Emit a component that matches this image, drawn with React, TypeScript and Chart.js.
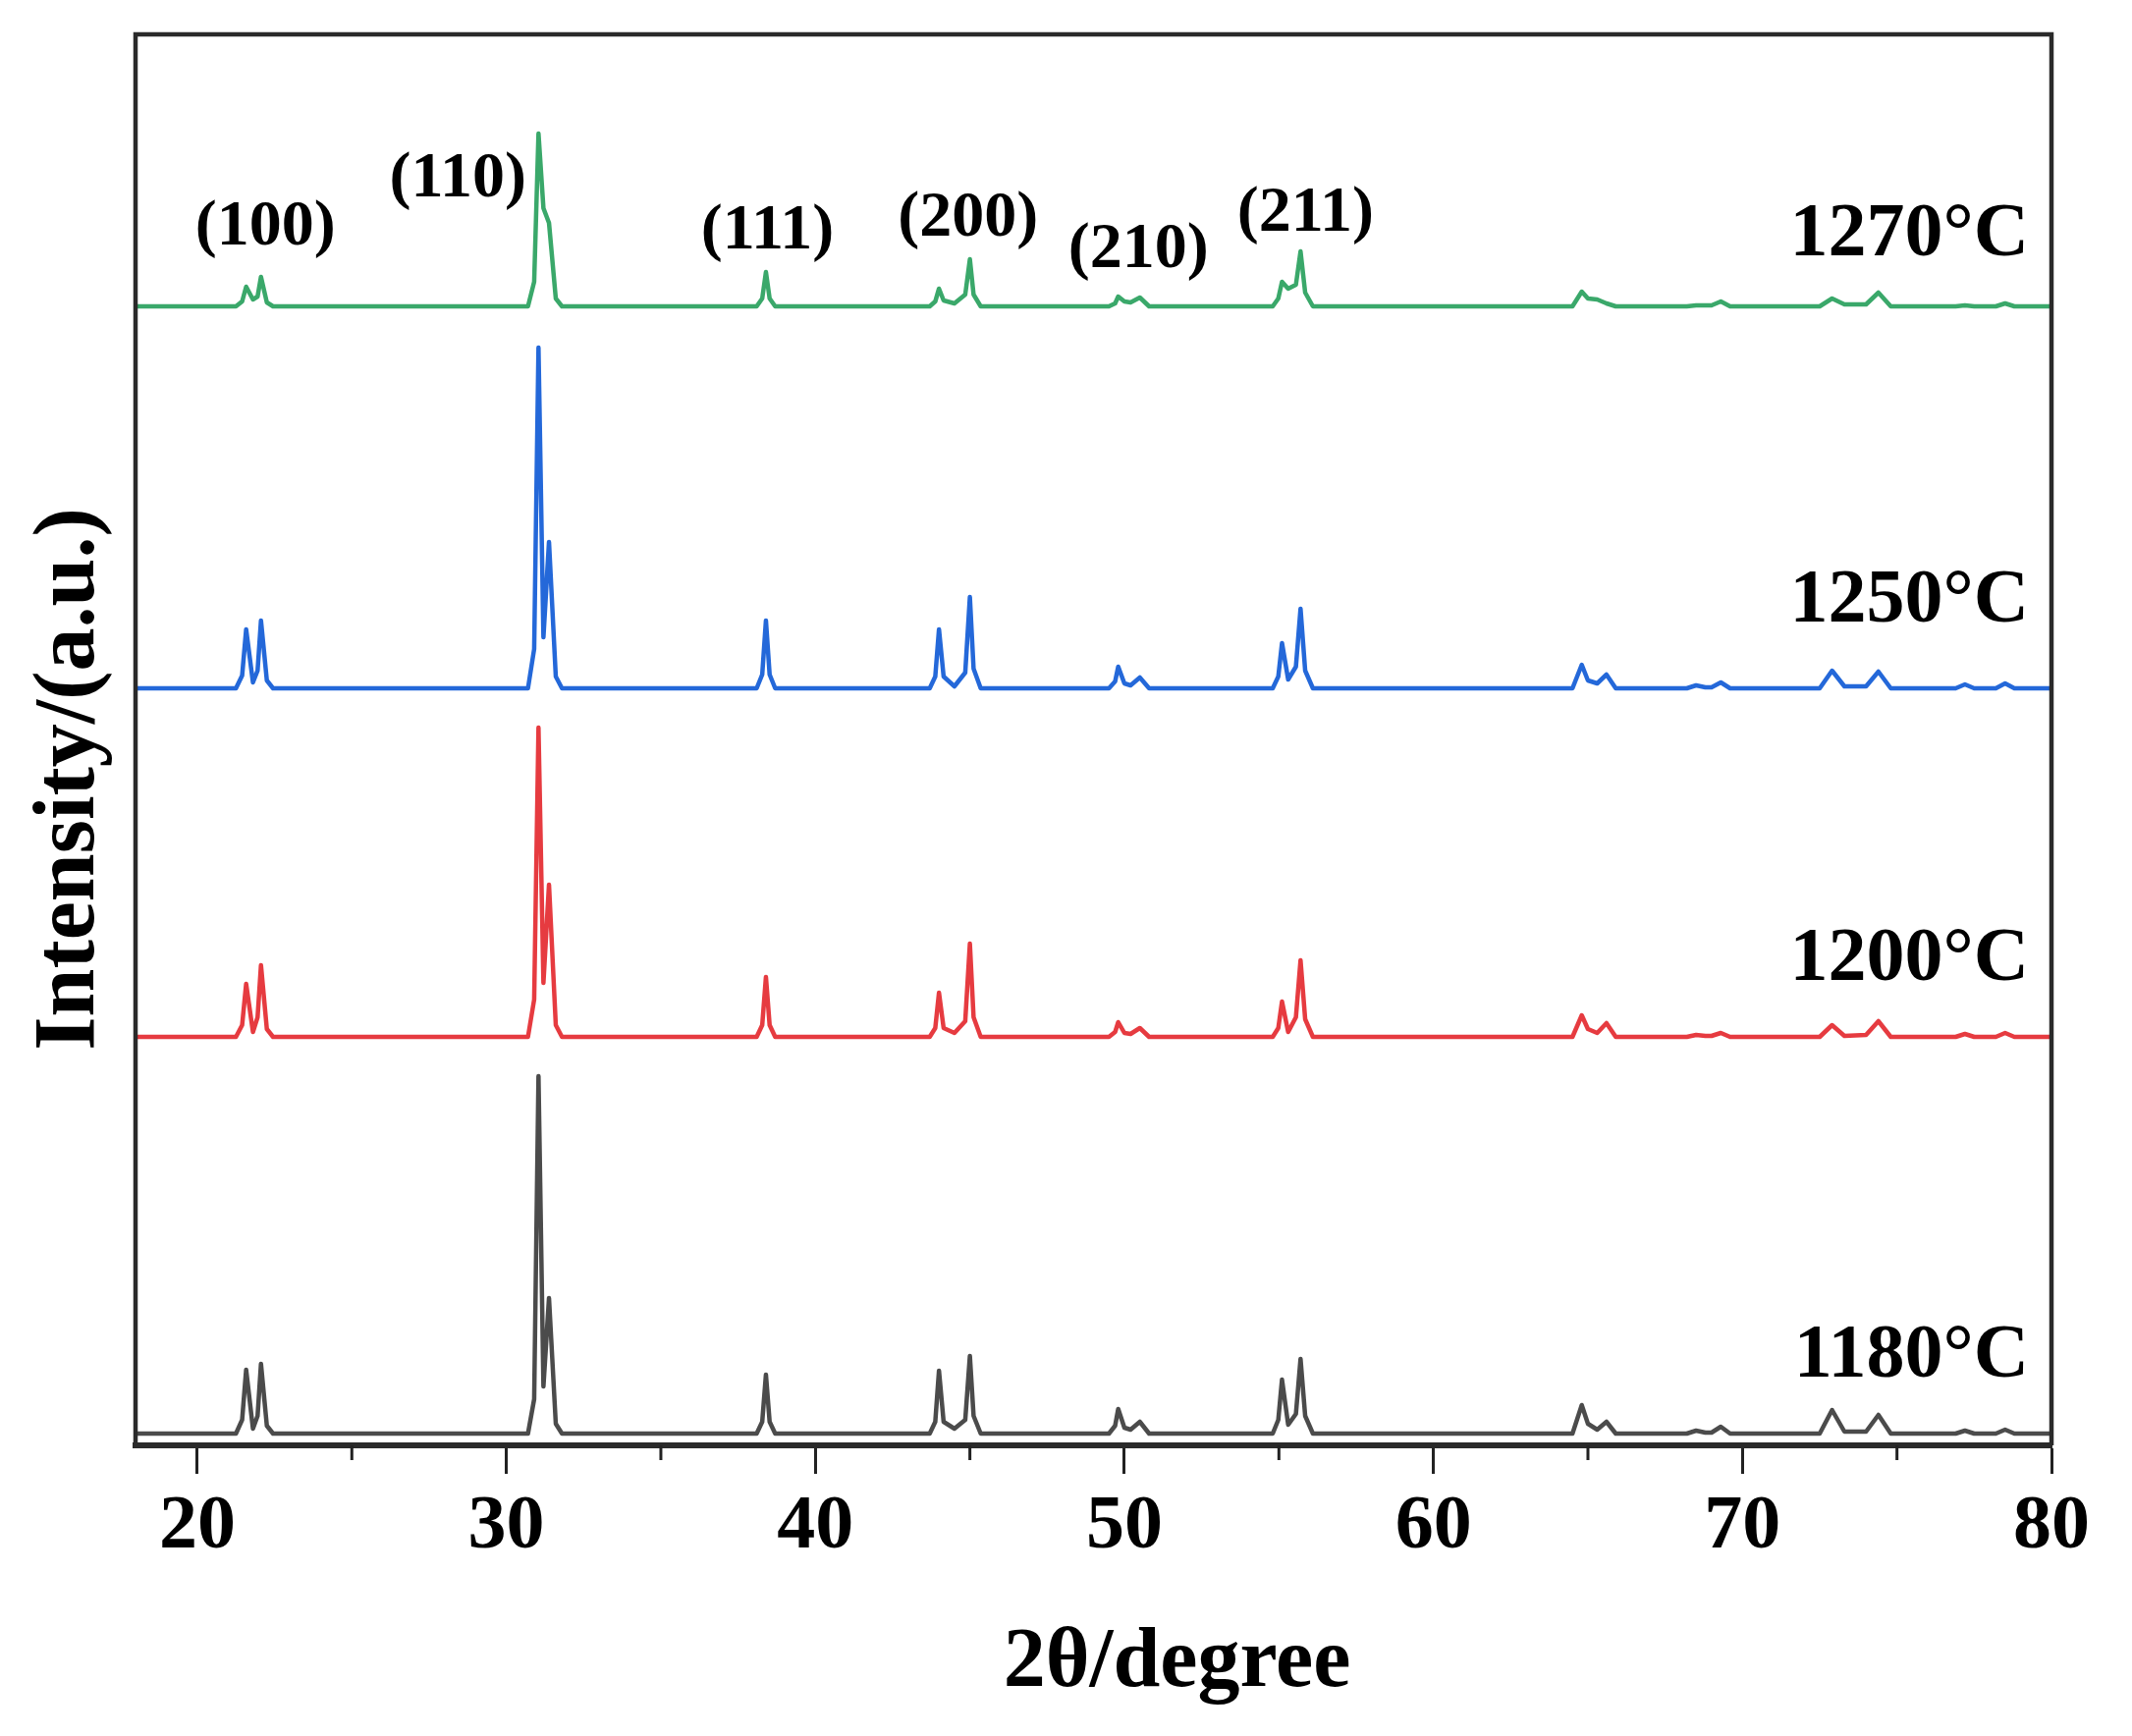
import React, { useEffect, useRef } from "react";
import { Chart, registerables } from "chart.js";

Chart.register(...registerables);

// 2θ positions (degrees) shared by all patterns
const ANGLES = [
  18.0,
  21.25, 21.45, 21.58, 21.8, 21.95, 22.06, 22.25, 22.45,
  30.7, 30.9, 31.04, 31.2, 31.38, 31.6, 31.8,
  38.1, 38.28, 38.4, 38.52, 38.7,
  43.7, 43.88, 44.0, 44.15, 44.5, 44.85, 45.0, 45.12, 45.35,
  49.5, 49.7, 49.8, 50.0, 50.2, 50.5, 50.8,
  54.8, 54.98, 55.1, 55.3, 55.55, 55.7, 55.85, 56.1,
  64.5, 64.8, 65.0, 65.3, 65.6, 65.9,
  68.2, 68.5, 68.8, 69.0, 69.3, 69.6,
  72.5, 72.9, 73.3, 74.0, 74.4, 74.8,
  76.9, 77.2, 77.5, 78.2, 78.5, 78.8,
  80.0,
];

// intensities above each pattern's own baseline (a.u.)
const I_1180 = [
  0,
  0, 14, 65, 5, 18, 71, 8, 0,
  0, 35, 364, 48, 138, 10, 0,
  0, 12, 60, 12, 0,
  0, 12, 64, 12, 5, 14, 79, 18, 0,
  0, 8, 25, 6, 4, 12, 0,
  0, 14, 55, 9, 20, 76, 18, 0,
  0, 29, 10, 4, 12, 0,
  0, 3, 1, 1, 7, 0,
  0, 24, 2, 2, 19, 0,
  0, 3, 0, 0, 4, 0,
  0,
];
const I_1200 = [
  0,
  0, 12, 54, 5, 20, 73, 8, 0,
  0, 38, 315, 55, 155, 12, 0,
  0, 12, 61, 12, 0,
  0, 9, 45, 9, 4, 16, 95, 20, 0,
  0, 5, 15, 4, 3, 9, 0,
  0, 9, 36, 5, 20, 78, 18, 0,
  0, 22, 8, 4, 14, 0,
  0, 2, 1, 1, 4, 0,
  0, 12, 1, 2, 16, 0,
  0, 3, 0, 0, 4, 0,
  0,
];
const I_1250 = [
  0,
  0, 13, 60, 6, 18, 69, 8, 0,
  0, 40, 347, 52, 149, 12, 0,
  0, 14, 69, 14, 0,
  0, 12, 60, 12, 2, 16, 93, 20, 0,
  0, 7, 22, 5, 3, 11, 0,
  0, 12, 46, 9, 22, 81, 18, 0,
  0, 24, 8, 5, 14, 0,
  0, 3, 1, 1, 6, 0,
  0, 18, 2, 2, 17, 0,
  0, 4, 0, 0, 5, 0,
  0,
];
const I_1270 = [
  0,
  0, 5, 20, 7, 10, 30, 4, 0,
  0, 25, 176, 100, 85, 8, 0,
  0, 8, 35, 8, 0,
  0, 5, 18, 6, 3, 12, 48, 12, 0,
  0, 3, 10, 5, 4, 9, 0,
  0, 8, 25, 18, 22, 56, 14, 0,
  0, 15, 8, 7, 3, 0,
  0, 1, 1, 1, 5, 0,
  0, 8, 2, 2, 14, 0,
  0, 1, 0, 0, 3, 0,
  0,
];

const SERIES_NAMES = ["1180°C", "1200°C", "1250°C", "1270°C"];
const SERIES_VALUES = [I_1180, I_1200, I_1250, I_1270];
// vertical stacking offset of each pattern
const OFFSETS = [12, 416, 771, 1160];
const COLORS = ["#4b4b4b", "#e63b40", "#2468d9", "#3aa86a"];

const X_TICKS = [20, 30, 40, 50, 60, 70, 80];
const X_MINOR = [25, 35, 45, 55, 65, 75];

const HKL_LABELS = ["(100)", "(110)", "(111)", "(200)", "(210)", "(211)"];
const HKL_X = [22.2, 28.43, 38.45, 44.94, 50.45, 55.86];
const HKL_Y = [1240, 1289, 1236, 1249, 1217, 1254];
const TEMP_LABEL_Y = [90, 494, 859, 1232];

const SERIF = '"Liberation Serif", "Times New Roman", serif';

const textPlugin = {
  id: "xrdText",
  afterDraw(chart: any) {
    const { ctx, chartArea, scales } = chart;
    const xs = scales.x;
    const ys = scales.y;
    ctx.save();

    // frame (left, top, right)
    ctx.strokeStyle = "#2a2a2a";
    ctx.lineWidth = 4.5;
    ctx.beginPath();
    ctx.moveTo(chartArea.left, chartArea.bottom);
    ctx.lineTo(chartArea.left, chartArea.top);
    ctx.lineTo(chartArea.right, chartArea.top);
    ctx.lineTo(chartArea.right, chartArea.bottom);
    ctx.stroke();

    // minor ticks
    ctx.lineWidth = 3;
    ctx.strokeStyle = "#222";
    X_MINOR.forEach((v) => {
      const px = xs.getPixelForValue(v);
      ctx.beginPath();
      ctx.moveTo(px, chartArea.bottom);
      ctx.lineTo(px, chartArea.bottom + 15);
      ctx.stroke();
    });

    ctx.fillStyle = "#000";

    // hkl labels
    ctx.font = `bold 66px ${SERIF}`;
    ctx.textAlign = "center";
    ctx.textBaseline = "middle";
    HKL_LABELS.forEach((t, i) => {
      ctx.fillText(t, xs.getPixelForValue(HKL_X[i]), ys.getPixelForValue(HKL_Y[i]));
    });

    // temperature labels
    ctx.font = `bold 78px ${SERIF}`;
    ctx.textAlign = "right";
    SERIES_NAMES.forEach((t, i) => {
      ctx.fillText(t, chartArea.right - 23, ys.getPixelForValue(TEMP_LABEL_Y[i]));
    });

    // x title
    ctx.font = `bold 86px ${SERIF}`;
    ctx.textAlign = "center";
    ctx.textBaseline = "alphabetic";
    ctx.fillText("2θ/degree", (chartArea.left + chartArea.right) / 2 + 85, chartArea.bottom + 245);

    // y title
    ctx.translate(chartArea.left - 43, (chartArea.top + chartArea.bottom) / 2 + 40);
    ctx.rotate(-Math.PI / 2);
    ctx.font = `bold 88px ${SERIF}`;
    ctx.fillText("Intensity/(a.u.)", 0, 0);
    ctx.restore();
  },
};

const XrdChart = () => {
  const chartRef = useRef<HTMLCanvasElement>(null);
  const chartInstance = useRef<Chart | null>(null);

  useEffect(() => {
    if (!chartRef.current) return;
    const ctx = chartRef.current.getContext("2d");
    if (!ctx) return;

    if (chartInstance.current) {
      chartInstance.current.destroy();
    }

    const datasets = SERIES_VALUES.map((vals, i) => ({
      label: SERIES_NAMES[i],
      data: ANGLES.map((a, k) => ({ x: a, y: vals[k] + OFFSETS[i] })),
      borderColor: COLORS[i],
      borderWidth: 4.5,
      borderJoinStyle: "round",
      pointRadius: 0,
      tension: 0,
      fill: false,
    }));

    chartInstance.current = new Chart(ctx, {
      type: "line",
      data: { datasets },
      options: {
        responsive: true,
        maintainAspectRatio: false,
        animation: false,
        layout: { padding: { left: 138, right: 82, top: 35, bottom: 0 } },
        plugins: {
          legend: { display: false },
          tooltip: { enabled: false },
        },
        scales: {
          x: {
            type: "linear",
            min: 18,
            max: 80,
            afterBuildTicks: (s: any) => {
              s.ticks = X_TICKS.map((v) => ({ value: v }));
            },
            afterFit: (s: any) => {
              s.height = 296;
            },
            ticks: {
              color: "#000",
              padding: 8,
              autoSkip: false,
              maxRotation: 0,
              font: { family: SERIF, size: 78, weight: "bold" },
            },
            grid: {
              drawOnChartArea: false,
              drawTicks: true,
              tickLength: 29,
              tickWidth: 3,
              tickColor: "#222",
            },
            border: { display: true, width: 6, color: "#2a2a2a" },
          },
          y: {
            display: false,
            min: 0,
            max: 1437,
          },
        },
      } as any,
      plugins: [textPlugin],
    });

    return () => {
      if (chartInstance.current) {
        chartInstance.current.destroy();
        chartInstance.current = null;
      }
    };
  }, []);

  return (
    <div
      style={{
        position: "absolute",
        left: 0,
        top: 0,
        width: 2171,
        height: 1768,
        background: "#fff",
      }}
    >
      <canvas ref={chartRef}></canvas>
    </div>
  );
};

export default function App() {
  return <XrdChart />;
}
